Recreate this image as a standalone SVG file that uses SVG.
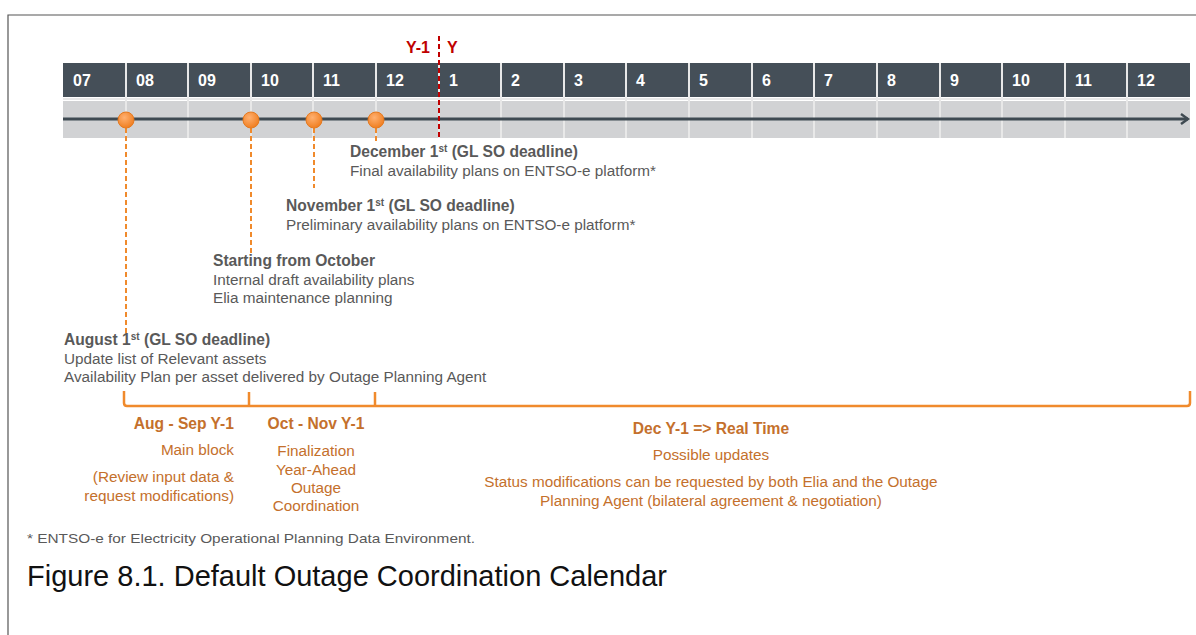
<svg xmlns="http://www.w3.org/2000/svg" width="1196" height="635" viewBox="0 0 1196 635">
<defs>
<style>
.mon{font-family:"Liberation Sans",Arial,sans-serif;font-weight:bold;font-size:16px;fill:#ffffff}
.ann{font-family:"Liberation Sans",Arial,sans-serif;font-size:15.3px;fill:#595959}
.annb{font-family:"Liberation Sans",Arial,sans-serif;font-size:15.6px;font-weight:bold;fill:#595959}
.ph{font-family:"Liberation Sans",Arial,sans-serif;font-size:15.3px;fill:#C4702C}
.phb{font-family:"Liberation Sans",Arial,sans-serif;font-size:15.6px;font-weight:bold;fill:#C4702C}
.dash{stroke:#F08A2C;stroke-width:2;stroke-dasharray:5,3;fill:none}
.sep{stroke:#E8E8E8;stroke-width:2}
.sup{font-size:10px}
</style>
<radialGradient id="dot" cx="40%" cy="35%" r="65%">
<stop offset="0" stop-color="#FFB070"/>
<stop offset="1" stop-color="#F07F22"/>
</radialGradient>
<marker id="arr" markerWidth="10" markerHeight="12" refX="8" refY="6" orient="auto" markerUnits="userSpaceOnUse">
<path d="M1,1 L8,6 L1,11" fill="none" stroke="#3F4A52" stroke-width="2.5"/>
</marker>
</defs>
<rect width="1196" height="635" fill="#ffffff"/>
<path d="M8,635 L8,15 L1196,15" fill="none" stroke="#555555" stroke-width="1.2"/>

<g id="months">
<rect x="63" y="63" width="1127" height="34" fill="#454F58"/>
<rect x="63" y="101" width="1127" height="37" fill="#D1D2D4"/>
<g class="sep">
<line x1="126" y1="63" x2="126" y2="138"/><line x1="188" y1="63" x2="188" y2="138"/>
<line x1="251" y1="63" x2="251" y2="138"/><line x1="313" y1="63" x2="313" y2="138"/>
<line x1="376" y1="63" x2="376" y2="138"/><line x1="439" y1="63" x2="439" y2="138"/>
<line x1="501" y1="63" x2="501" y2="138"/><line x1="564" y1="63" x2="564" y2="138"/>
<line x1="626" y1="63" x2="626" y2="138"/><line x1="689" y1="63" x2="689" y2="138"/>
<line x1="752" y1="63" x2="752" y2="138"/><line x1="814" y1="63" x2="814" y2="138"/>
<line x1="877" y1="63" x2="877" y2="138"/><line x1="940" y1="63" x2="940" y2="138"/>
<line x1="1002" y1="63" x2="1002" y2="138"/><line x1="1065" y1="63" x2="1065" y2="138"/>
<line x1="1127" y1="63" x2="1127" y2="138"/>
<line x1="63" y1="99" x2="1190" y2="99"/>
</g>
<text class="mon" x="73" y="86">07</text><text class="mon" x="136" y="86">08</text>
<text class="mon" x="198" y="86">09</text><text class="mon" x="261" y="86">10</text>
<text class="mon" x="323" y="86">11</text><text class="mon" x="386" y="86">12</text>
<text class="mon" x="449" y="86">1</text><text class="mon" x="511" y="86">2</text>
<text class="mon" x="574" y="86">3</text><text class="mon" x="636" y="86">4</text>
<text class="mon" x="699" y="86">5</text><text class="mon" x="762" y="86">6</text>
<text class="mon" x="824" y="86">7</text><text class="mon" x="887" y="86">8</text>
<text class="mon" x="950" y="86">9</text><text class="mon" x="1012" y="86">10</text>
<text class="mon" x="1075" y="86">11</text><text class="mon" x="1137" y="86">12</text>
</g>

<g id="connectors">
<line x1="63" y1="119" x2="1188" y2="119" stroke="#3F4A52" stroke-width="3" marker-end="url(#arr)"/>
<line x1="439" y1="36" x2="439" y2="140" stroke="#C00000" stroke-width="2" stroke-dasharray="5,3"/>
<line class="dash" x1="126" y1="128" x2="126" y2="333"/>
<line class="dash" x1="251" y1="128" x2="251" y2="255"/>
<line class="dash" x1="314" y1="128" x2="314" y2="188"/>
<line class="dash" x1="376" y1="128" x2="376" y2="141"/>
<path d="M124,391 L124,403 Q124,406 127,406 L1187,406 Q1190,406 1190,403 L1190,391 M249,392 L249,406 M375,392 L375,406" fill="none" stroke="#F08A2C" stroke-width="2.5"/>
</g>

<g id="yearmark">
<text x="430" y="53" text-anchor="end" font-family="Liberation Sans,Arial,sans-serif" font-size="16" font-weight="bold" fill="#C00000">Y-1</text>
<text x="447" y="53" font-family="Liberation Sans,Arial,sans-serif" font-size="16" font-weight="bold" fill="#C00000">Y</text>
</g>

<g id="dots">
<circle cx="126" cy="120" r="8" fill="url(#dot)" stroke="#E57A20" stroke-width="1"/>
<circle cx="251" cy="120" r="8" fill="url(#dot)" stroke="#E57A20" stroke-width="1"/>
<circle cx="314" cy="120" r="8" fill="url(#dot)" stroke="#E57A20" stroke-width="1"/>
<circle cx="376" cy="120" r="8" fill="url(#dot)" stroke="#E57A20" stroke-width="1"/>
</g>

<g id="december">
<text class="annb" x="350" y="157">December 1<tspan class="sup" dy="-5">st</tspan><tspan dy="5"> (GL SO deadline)</tspan></text>
<text class="ann" x="350" y="176">Final availability plans on ENTSO-e platform*</text>
</g>
<g id="november">
<text class="annb" x="286" y="211">November 1<tspan class="sup" dy="-5">st</tspan><tspan dy="5"> (GL SO deadline)</tspan></text>
<text class="ann" x="286" y="230">Preliminary availability plans on ENTSO-e platform*</text>
</g>
<g id="october">
<text class="annb" x="213" y="266">Starting from October</text>
<text class="ann" x="213" y="285">Internal draft availability plans</text>
<text class="ann" x="213" y="303">Elia maintenance planning</text>
</g>
<g id="august">
<text class="annb" x="64" y="345">August 1<tspan class="sup" dy="-5">st</tspan><tspan dy="5"> (GL SO  deadline)</tspan></text>
<text class="ann" x="64" y="364">Update list of Relevant assets</text>
<text class="ann" x="64" y="382">Availability Plan per asset delivered by Outage Planning Agent</text>
</g>

<g id="phase1">
<text class="phb" x="234" y="429" text-anchor="end">Aug  - Sep Y-1</text>
<text class="ph" x="234" y="455" text-anchor="end">Main block</text>
<text class="ph" x="234" y="482" text-anchor="end">(Review  input data &amp;</text>
<text class="ph" x="234" y="501" text-anchor="end">request modifications)</text>
</g>
<g id="phase2">
<text class="phb" x="316" y="429" text-anchor="middle">Oct - Nov Y-1</text>
<text class="ph" x="316" y="456" text-anchor="middle">Finalization</text>
<text class="ph" x="316" y="475" text-anchor="middle">Year-Ahead</text>
<text class="ph" x="316" y="493" text-anchor="middle">Outage</text>
<text class="ph" x="316" y="511" text-anchor="middle">Coordination</text>
</g>
<g id="phase3">
<text class="phb" x="711" y="434" text-anchor="middle">Dec Y-1 =&gt;  Real Time</text>
<text class="ph" x="711" y="460" text-anchor="middle">Possible updates</text>
<text class="ph" x="711" y="487" text-anchor="middle">Status modifications can be requested by both Elia and the Outage</text>
<text class="ph" x="711" y="506" text-anchor="middle">Planning Agent (bilateral agreement &amp; negotiation)</text>
</g>

<text x="27" y="543" font-family="Liberation Sans,Arial,sans-serif" font-size="13.5" fill="#595959" textLength="448" lengthAdjust="spacingAndGlyphs">* ENTSO-e for Electricity Operational Planning Data Environment.</text>
<text x="27" y="586" font-family="Liberation Sans,Arial,sans-serif" font-size="29" fill="#111111">Figure 8.1. Default Outage Coordination Calendar</text>
</svg>
